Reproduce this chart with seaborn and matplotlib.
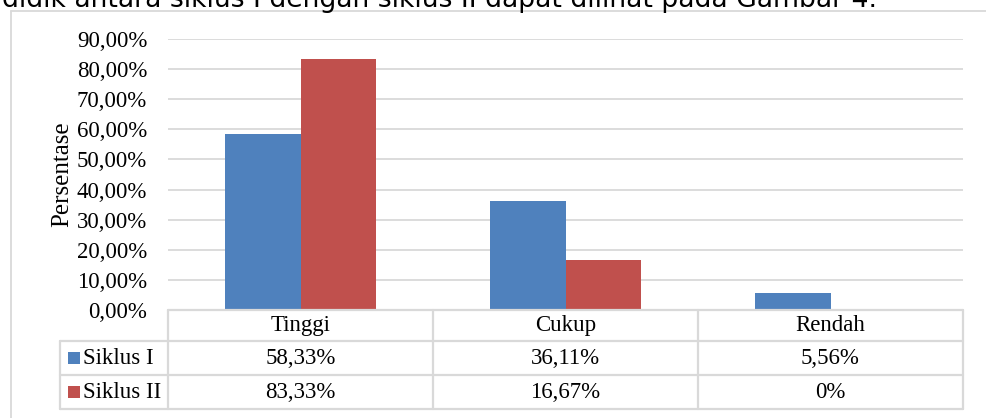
import matplotlib
matplotlib.use("Agg")
import matplotlib.pyplot as plt
import matplotlib.transforms as mtransforms
from matplotlib.lines import Line2D
from matplotlib.patches import Rectangle
import seaborn as sns
import pandas as pd

categories = ["Tinggi", "Cukup", "Rendah"]
series_names = ["Siklus I", "Siklus II"]
siklus1 = [58.33, 36.11, 5.56]
siklus2 = [83.33, 16.67, 0.0]
siklus1_labels = ["58,33%", "36,11%", "5,56%"]
siklus2_labels = ["83,33%", "16,67%", "0%"]
yticks = [0, 10, 20, 30, 40, 50, 60, 70, 80, 90]
ytick_labels = ["0,00%", "10,00%", "20,00%", "30,00%", "40,00%", "50,00%",
                "60,00%", "70,00%", "80,00%", "90,00%"]
colors = ["#4F81BD", "#C0504D"]
top_text = "didik antara siklus I dengan siklus II dapat dilihat pada Gambar 4."

df = pd.DataFrame({
    "Kategori": categories * 2,
    "Seri": [series_names[0]] * 3 + [series_names[1]] * 3,
    "Nilai": siklus1 + siklus2,
})

sns.set_theme(style="white")
plt.rcParams["font.family"] = ["Liberation Serif", "DejaVu Serif"]

W, H = 986, 418
fig = plt.figure(figsize=(W / 100, H / 100), dpi=100)

def fx(px):
    return px / W

def fy(py):
    return 1 - py / H

fs = 16.5

# axes area in pixels
L, R, T, B = 168, 963, 39, 310
ax = fig.add_axes([fx(L), fy(B), fx(R) - fx(L), fy(T) - fy(B)])

sns.barplot(data=df, x="Kategori", y="Nilai", hue="Seri", order=categories,
            hue_order=series_names, palette=colors, width=0.57, gap=0,
            ax=ax, legend=False, saturation=1, linewidth=0)

ax.set_xlim(-0.5, 2.5)
ax.set_ylim(0, 90)
ax.set_yticks(yticks)
ax.set_yticklabels(ytick_labels, fontsize=fs, color="#000000")
ax.set_xticks([])
ax.set_xlabel("")
ax.set_ylabel("Persentase", fontsize=18, color="#000000")
ax.yaxis.set_label_coords((62 - L) / (R - L), 0.5)
ax.yaxis.label.set_va("center")
ax.tick_params(axis="y", length=0, pad=15)
ax.yaxis.grid(True, color="#D9D9D9", linewidth=1.3)
ax.set_axisbelow(True)
for s in ax.spines.values():
    s.set_visible(False)

# table below the axis: x in data coords, y in axes fraction
trans = mtransforms.blended_transform_factory(ax.transData, ax.transAxes)
axh = B - T
row_px = [310, 341, 375, 409]
row_y = [-(p - B) / axh for p in row_px]
legend_left = -0.5 + (60 - L) / ((R - L) / 3)
col_x = [-0.5, 0.5, 1.5, 2.5]
lc = "#D9D9D9"
lw = 1.6

def hline(x0, x1, y):
    ax.add_line(Line2D([x0, x1], [y, y], transform=trans, color=lc,
                       linewidth=lw, clip_on=False))

def vline(x, y0, y1):
    ax.add_line(Line2D([x, x], [y0, y1], transform=trans, color=lc,
                       linewidth=lw, clip_on=False))

hline(-0.5, 2.5, row_y[0])
hline(legend_left, 2.5, row_y[1])
hline(legend_left, 2.5, row_y[2])
hline(legend_left, 2.5, row_y[3])
for x in col_x:
    vline(x, row_y[0], row_y[3])
vline(legend_left, row_y[1], row_y[3])

for i, c in enumerate(categories):
    ax.text(i, (row_y[0] + row_y[1]) / 2, c, transform=trans, ha="center",
            va="center", fontsize=fs, color="#000000")
    ax.text(i, (row_y[1] + row_y[2]) / 2, siklus1_labels[i], transform=trans,
            ha="center", va="center", fontsize=fs, color="#000000")
    ax.text(i, (row_y[2] + row_y[3]) / 2, siklus2_labels[i], transform=trans,
            ha="center", va="center", fontsize=fs, color="#000000")

# legend keys in the first column
for j, (name, col) in enumerate(zip(series_names, colors)):
    yc_px = (row_px[j + 1] + row_px[j + 2]) / 2
    fig.text(fx(83), fy(yc_px), name, ha="left", va="center",
             fontsize=fs, color="#000000")
    fig.patches.append(Rectangle((fx(68), fy(yc_px + 6)), fx(12), 12 / H,
                                 transform=fig.transFigure,
                                 facecolor=col, edgecolor="none"))

# outer chart frame (left and top edges visible)
fig.add_artist(Line2D([fx(11), fx(11)], [fy(11), 0], transform=fig.transFigure,
                      color=lc, linewidth=1.3))
fig.add_artist(Line2D([fx(11), 1], [fy(11), fy(11)], transform=fig.transFigure,
                      color=lc, linewidth=1.3))

# clipped line of document text above the chart
fig.text(fx(2), fy(7), top_text, ha="left", va="baseline",
         fontsize=19.2, family=["DejaVu Sans"], color="#000000")

fig.savefig("out.png", dpi=100, facecolor="white")
